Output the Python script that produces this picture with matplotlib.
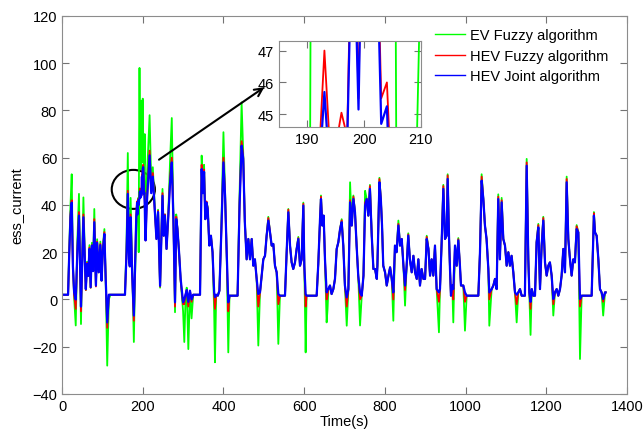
import matplotlib
matplotlib.use('Agg')
import matplotlib.pyplot as plt
from matplotlib.patches import Ellipse

plt.rcParams['font.family'] = ['Liberation Sans', 'DejaVu Sans']
plt.rcParams['font.size'] = 10.5

# time axis (s) and the three current traces
time_s = [
    0, 15, 18, 21, 24, 27, 30, 34, 38, 42,
    47, 50, 53, 56, 59, 62, 65, 68, 71, 74,
    77, 80, 84, 87, 91, 95, 98, 101, 105, 108,
    112, 116, 120, 156, 160, 163, 166, 168, 170, 174,
    178, 181, 184, 185, 186, 187, 188, 189, 190, 191,
    192, 193, 194, 195, 196, 197, 198, 199, 200, 201,
    202, 203, 204, 205, 206, 207, 210, 217, 221, 225,
    229, 234, 238, 243, 249, 252, 255, 259, 263, 268,
    272, 276, 280, 283, 286, 290, 294, 300, 303, 306,
    309, 313, 317, 321, 325, 342, 346, 349, 352, 355,
    358, 361, 365, 369, 373, 377, 379, 382, 386, 390,
    395, 400, 404, 408, 412, 415, 435, 440, 445, 449,
    453, 457.5, 461.7, 465.8, 470, 474, 478, 482.3, 486.4, 490.6,
    498.8, 503, 507, 511.2, 515.4, 519.5, 523.6, 527.7, 531.9, 536,
    540, 552.5, 556.6, 560.8, 565, 569, 573, 577.3, 581.4, 585.6,
    589.7, 593.8, 598, 600.4, 603.7, 606, 631, 635, 639.3, 641.7,
    645, 648.3, 651.6, 655.7, 658, 660, 664, 668, 672.3, 676.4,
    680.6, 684.7, 689, 693, 697, 701, 705.5, 709.6, 713.8, 718,
    722, 726, 730, 734, 738.5, 742.7, 747, 751, 755, 759,
    763, 767.5, 771.6, 775.7, 780, 781.5, 786.5, 790, 793, 796,
    800.5, 804.6, 808.8, 813, 817, 821, 825, 829, 833.5, 837.6,
    841.8, 846, 850, 854, 858, 862, 866.5, 870.7, 874.8, 879,
    883, 887, 891, 895.5, 899.6, 903.7, 908, 912, 916, 920,
    924.2, 928.3, 934, 936.6, 940.7, 944.9, 949, 953, 955.6, 958.9,
    961.4, 963.8, 967, 969.6, 973.8, 978, 982, 986, 988.6, 994.4,
    998.5, 1002.7, 1031.6, 1035.7, 1039.8, 1044, 1048, 1052, 1056.4, 1058.8,
    1064.6, 1068.8, 1072.9, 1077, 1081, 1085, 1089.4, 1093.5, 1097.7, 1101.8,
    1106, 1110, 1114, 1118.3, 1122.4, 1126.6, 1130.7, 1134.8, 1139, 1147,
    1151.4, 1155.5, 1158, 1161, 1164, 1168, 1172, 1176, 1180.3, 1184.4,
    1188.5, 1192.6, 1196.8, 1200.9, 1205, 1209, 1213.3, 1217.4, 1221.5, 1225.7,
    1229.8, 1234, 1238, 1242.2, 1246.3, 1250.5, 1254.6, 1258.7, 1262.8, 1267,
    1271, 1275.2, 1279.4, 1283.5, 1287.6, 1312.4, 1318, 1320.7, 1324.8, 1329,
    1333, 1337, 1341, 1345.5, 1347,
]

hev_joint = [
    2, 2, 20, 35, 41, 14, 3, 0, 20, 35.5,
    -3, 15, 34.8, 20, 4.4, 15, 10, 21.4, 5.2, 22.8,
    12, 32.7, 5.9, 24, 11.5, 23, 8, 20, 27.7, 10,
    -9.7, 2, 2, 2, 20, 44.7, 17, 14, 34.8, 10,
    -6.8, 15, 35, 38, 41, 36, 40, 42, 40, 42,
    43, 45.7, 43, 43.5, 44.2, 44, 52, 45.15, 55, 56,
    52, 44.7, 45.25, 40, 30, 25, 40, 61, 45, 52,
    40, 25.6, 37, 5.8, 43.9, 27, 35.5, 21.4, 34, 50,
    58, 34, -1.2, 34, 29.8, 20, 8.7, -1.2, 0, 2,
    4, -1, 3.7, 0, 2, 2, 55.2, 45, 54, 34,
    41, 38.3, 22.8, 27, 20, 3, 1, 2, 1.6, 3.7,
    30, 58, 44, 20, -1.2, 1.6, 1.6, 40, 65.1, 59.5,
    32.7, 17, 25.6, 17, 25.6, 14.3, 17, 8.7, 2.3, 3,
    17, 18.5, 27, 33.4, 28.4, 22.8, 23.5, 14.3, 11.5, 2.3,
    1.6, 1.6, 20, 36.9, 22.8, 15.7, 12.9, 15.7, 21.4, 25.6,
    14.3, 17, 39.7, 14.3, 2.3, 1.6, 1.6, 15, 34, 42.5,
    31.3, 35.5, 17, 3, 4, 4.4, 5.9, 2.3, 4.4, 8.7,
    21.4, 24.2, 29.8, 32.7, 22.8, 5.9, 0.9, 4.4, 41.1, 31.3,
    42.5, 36.9, 22.8, 10.1, 3, 1.6, 10.1, 39.7, 42.5, 35.5,
    46.8, 27, 12.9, 12.9, 8.7, 14.3, 49.6, 42.5, 31.3, 14.3,
    11.5, 5.9, 10, 13.6, 8.7, 3, 22.8, 20, 31.3, 22.8,
    25.6, 14.3, 5.9, 14.3, 27, 17, 11.5, 18.5, 11.5, 8.7,
    17, 5.9, 12.9, 8.7, 8.7, 25.6, 21.4, 10.1, 17, 10.1,
    22.8, 4.4, 3, 4.4, 24.2, 46.8, 25.6, 27, 51, 27,
    12.9, 1.6, 5.9, 4.4, 22.8, 14.3, 25, 14.3, 5.9, 5.9,
    3, 1.6, 1.6, 20, 50.3, 42.5, 31.3, 25.6, 12.9, 3,
    4.4, 5.9, 8.7, 4.4, 42.5, 17, 41.1, 25.6, 22.8, 14.3,
    20, 14.3, 18.5, 11.5, 3, 2, 3, 4.4, 1.6, 1.6,
    56.6, 17, 3, -1, 4.4, 1.6, 1.6, 24.2, 30.5, 4.4,
    22.8, 33.4, 15.7, 10.1, 14.3, 15.7, 10.1, 0.2, 3, 4.4,
    1.6, 4.4, 10.1, 21.4, 11.5, 49.6, 25.6, 17, 10.1, 17,
    15.7, 29.8, 28.4, 0.2, 1.6, 1.6, 35.5, 28.4, 27, 17,
    4.4, 3, 0.2, 3, 3,
]

hev_fuzzy = [
    2, 2, 20, 36, 42, 14, 2, -4, 21, 37,
    -5, 15, 36, 20, 4, 15.5, 10, 22, 5, 23,
    12, 34, 5.5, 24.5, 11.5, 23.5, 8, 21, 28.5, 10,
    -12, 2, 2, 2, 21, 46, 17, 14, 36, 10,
    -9, 15, 35.5, 38.5, 41.5, 36.5, 40.5, 42.5, 40.5, 42.5,
    43.5, 47, 43.8, 44, 45.05, 44.3, 53, 45.5, 56, 57,
    53, 45.5, 46, 42, 30.5, 25, 41, 63, 46, 53.5,
    40, 25.6, 37.5, 5.5, 45, 27, 36, 21.4, 34, 52,
    60, 34, -3, 35, 30, 20, 8, -2, -2, 2,
    4, -3, 3.7, -1, 2, 2, 57, 46, 55, 34,
    41.5, 38.5, 23, 27, 20, 2, -4, 2, 1.6, 3.7,
    30, 60, 44.5, 20, -5, 1.6, 1.6, 41, 67, 60.5,
    33, 17, 25.6, 17, 25.6, 14.3, 17, 8.7, -3, 3,
    17, 18.5, 27, 34.5, 28.4, 22.8, 23.5, 14.3, 11.5, -2,
    1.6, 1.6, 20, 38, 22.8, 15.7, 12.9, 15.7, 21.4, 26,
    14.3, 17, 40.5, 14.3, -3, 1.6, 1.6, 15, 34, 43.5,
    31.3, 35.5, 17, 0, 2, 4.4, 5.9, 2.3, 4.4, 8.7,
    21.4, 24.2, 29.8, 33.5, 22.8, 5.9, -3, 4.4, 42, 31.3,
    43.5, 36.9, 22.8, 10.1, 0, 1.6, 10.1, 41, 42.5, 35.5,
    48, 27, 12.9, 12.9, 8.7, 14.3, 51, 42.5, 31.3, 14.3,
    11.5, 5.9, 10, 13.6, 8.7, 0, 22.8, 20, 32, 22.8,
    25.6, 14.3, 4, 14.3, 27.5, 17, 11.5, 18.5, 11.5, 8.7,
    17, 5.9, 12.9, 8.7, 8.7, 26.5, 21.4, 10.1, 17, 10.1,
    22.8, 4.4, -1, 4.4, 24.2, 48, 25.6, 27, 52.5, 27,
    12.9, 1.6, 5.9, 0, 22.8, 14.3, 25.5, 14.3, 5.9, 5.9,
    -1, 1.6, 1.6, 20, 52, 42.5, 31.3, 25.6, 12.9, 0,
    4.4, 5.9, 8.7, 4.4, 43.5, 17, 42, 25.6, 22.8, 14.3,
    20, 14.3, 18.5, 11.5, 3, -2, 3, 4.4, 1.6, 1.6,
    58, 17, 3, -4, 4.4, 1.6, 1.6, 24.2, 31.5, 4.4,
    22.8, 34.5, 15.7, 10.1, 14.3, 15.7, 10.1, -2, 3, 4.4,
    1.6, 4.4, 10.1, 21.4, 11.5, 51, 25.6, 17, 10.1, 17,
    15.7, 31, 28.4, -3, 1.6, 1.6, 36.5, 28.4, 27, 17,
    4.4, 3, -1, 3, 3,
]

ev_fuzzy = [
    2, 2, 22, 40, 53, 15, 1, -11, 25, 44.7,
    -10.4, 18, 43.2, 22, 4, 16, 10, 23, 5, 24,
    13, 38.3, 5.9, 25.5, 11.5, 24.5, 8, 22, 29.8, 10,
    -28, 0, 2, 2, 25, 62, 18, 15, 43, 12,
    -18, 10, 30, 35, 38, 40, 42, 43, 20, 70,
    98, 75, 60, 55, 62, 84, 80, 58, 85, 70,
    62, 55, 58, 70, 30, 26, 50, 78, 50, 56,
    42, 26, 38, 5, 46.8, 27, 36, 21.4, 35, 60,
    76.8, 35, -5.4, 36, 30, 20, 8, -5, -18, 0,
    5, -21, 3.7, -8, 2, 2, 60.9, 47, 57, 34,
    41, 39, 23, 27, 20, -5, -26.6, 2, 1.6, 3.7,
    32, 70.8, 45, 20, -22.4, 1.6, 1.6, 45, 83.4, 62,
    33, 17, 25.6, 17, 25.6, 14.3, 17, 8.7, -19.5, 3,
    17, 18.5, 27, 35, 28.4, 22.8, 23.5, 14.3, 11.5, -18.8,
    1.6, 1.6, 20, 38.3, 22.8, 15.7, 12.9, 15.7, 21.4, 26.5,
    14.3, 17, 41, 14.3, -22.4, 1.6, 1.6, 15, 34, 44,
    31.3, 35.5, 17, -9.7, -4, 4.4, 5.9, 2.3, 4.4, 8.7,
    21.4, 24.2, 29.8, 34, 22.8, 5.9, -11.1, 4.4, 49.6, 31.3,
    44, 36.9, 22.8, 10.1, -11, 1.6, 10.1, 46, 42.5, 35.5,
    48.5, 27, 12.9, 12.9, 8.7, 14.3, 51.5, 42.5, 31.3, 14.3,
    11.5, 5.9, 10, 13.6, 8.7, -9, 22.8, 20, 33.4, 22.8,
    25.6, 14.3, -2.6, 14.3, 28, 17, 11.5, 18.5, 11.5, 8.7,
    17, 5.9, 12.9, 8.7, 8.7, 27, 21.4, 10.1, 17, 10.1,
    22.8, 4.4, -13.9, 4.4, 24.2, 48.5, 25.6, 27, 53, 27,
    12.9, 1.6, 5.9, -9.7, 22.8, 14.3, 26, 14.3, 5.9, 5.9,
    -13.2, 1.6, 1.6, 20, 53, 42.5, 31.3, 25.6, 12.9, -11.1,
    4.4, 5.9, 8.7, 4.4, 44.5, 17, 43, 25.6, 22.8, 14.3,
    20, 14.3, 18.5, 11.5, 3, -9.7, 3, 4.4, 1.6, 1.6,
    59.5, 17, 3, -15, 4.4, 1.6, 1.6, 24.2, 32, 4.4,
    22.8, 35, 15.7, 10.1, 14.3, 15.7, 10.1, -6.8, 3, 4.4,
    1.6, 4.4, 10.1, 21.4, 11.5, 52, 25.6, 17, 10.1, 17,
    15.7, 31.5, 28.4, -25.2, 1.6, 1.6, 37, 28.4, 27, 17,
    4.4, 3, -6.8, 3, 3,
]

labels = ['EV Fuzzy algorithm', 'HEV Fuzzy algorithm', 'HEV Joint algorithm']
colors = ['#00ff00', '#ff0000', '#0000ff']
widths = [1.3, 1.3, 1.6]
series = [ev_fuzzy, hev_fuzzy, hev_joint]


def style_axes(a):
    a.tick_params(direction='in', top=True, right=True, length=5,
                  color='0.45', labelsize=10.5)
    for s in a.spines.values():
        s.set_color('0.55')


fig = plt.figure(figsize=(6.44, 4.35), dpi=100)
ax = fig.add_axes([0.0963, 0.092, 0.8773, 0.869])

for y, c, w, lab in zip(series, colors, widths, labels):
    ax.plot(time_s, y, color=c, lw=w, label=lab)

ax.set_xlim(0, 1400)
ax.set_ylim(-40, 120)
ax.set_xticks(range(0, 1401, 200))
ax.set_yticks(range(-40, 121, 20))
ax.set_xlabel('Time(s)', labelpad=1)
ax.set_ylabel('ess_current', labelpad=6)
style_axes(ax)

# ellipse around the zoomed region and arrow to the inset
ax.add_patch(Ellipse((176.7, 46.6), 107, 16.5, fill=False, ec='k', lw=1.5))
ax.annotate('', xy=(507, 90.5), xytext=(234.6, 58.5),
            arrowprops=dict(arrowstyle='->', color='k', lw=1.5,
                            mutation_scale=14))

leg = ax.legend(loc='upper left', bbox_to_anchor=(0.661, 0.968), frameon=False,
                borderpad=0, borderaxespad=0, handlelength=2.05,
                handletextpad=0.3, labelspacing=0.46, fontsize=10.5)
for h in leg.get_lines():
    h.set_linewidth(1.0)

# inset
ins = fig.add_axes([0.4332, 0.7057, 0.2205, 0.1977])
for y, c, w in zip(series, colors, widths):
    ins.plot(time_s, y, color=c, lw=w)
ins.set_xlim(185, 210)
ins.set_ylim(44.6, 47.3)
ins.set_xticks([190, 200, 210])
ins.set_yticks([45, 46, 47])
style_axes(ins)

fig.savefig('out.png', dpi=100)
